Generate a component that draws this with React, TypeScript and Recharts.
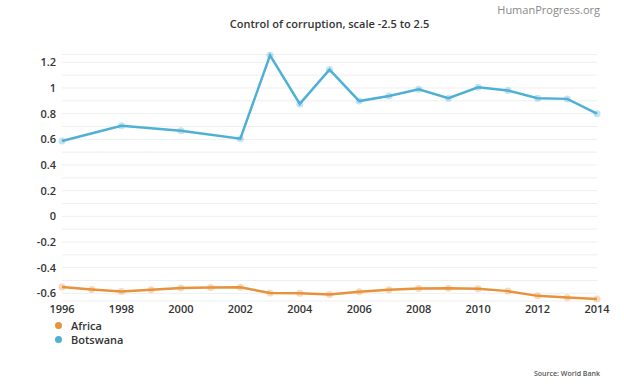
import React from "react";
import {
  LineChart,
  Line,
  XAxis,
  YAxis,
  CartesianGrid,
  Legend,
} from "recharts";

const years = [
  1996, 1997, 1998, 1999, 2000, 2001, 2002, 2003, 2004, 2005, 2006, 2007,
  2008, 2009, 2010, 2011, 2012, 2013, 2014,
];
const africa = [
  -0.55, -0.57, -0.585, -0.573, -0.558, -0.555, -0.553, -0.598, -0.6, -0.61,
  -0.588, -0.573, -0.563, -0.56, -0.565, -0.583, -0.62, -0.633, -0.645,
];
const botswana = [
  0.587, null, 0.706, null, 0.667, null, 0.605, 1.254, 0.876, 1.143, 0.898,
  0.938, 0.99, 0.92, 1.005, 0.98, 0.92, 0.915, 0.8,
];
const xTicks = [1996, 1998, 2000, 2002, 2004, 2006, 2008, 2010, 2012, 2014];
const yTicks = [
  -0.6, -0.5, -0.4, -0.3, -0.2, -0.1, 0, 0.1, 0.2, 0.3, 0.4, 0.5, 0.6, 0.7,
  0.8, 0.9, 1, 1.1, 1.2,
];

const data = years.map((year, i) => ({
  year,
  Africa: africa[i],
  Botswana: botswana[i],
}));

const FONT = "'Open Sans', sans-serif";
const AFRICA = "#e8923c";
const BOTSWANA = "#4fb0d6";

const yLabel = (v: number) =>
  Math.round(v * 10) % 2 === 0 ? String(Number(v.toFixed(1))) : "";

const renderLegend = () => (
  <div style={{ fontFamily: FONT, fontSize: 11, fontWeight: 600, color: "#333" }}>
    {[
      { name: "Africa", color: AFRICA },
      { name: "Botswana", color: BOTSWANA },
    ].map((item) => (
      <div
        key={item.name}
        style={{ display: "flex", alignItems: "center", height: 14 }}
      >
        <span
          style={{
            width: 7,
            height: 7,
            borderRadius: "50%",
            background: item.color,
            marginRight: 9,
          }}
        />
        {item.name}
      </div>
    ))}
  </div>
);

const App = () => {
  return (
    <div
      style={{
        position: "fixed",
        top: 0,
        left: 0,
        width: 624,
        height: 386,
        background: "#fff",
      }}
    >
      <div
        style={{
          position: "absolute",
          top: 2,
          right: 24,
          fontFamily: FONT,
          fontSize: 11,
          color: "#888",
        }}
      >
        HumanProgress.org
      </div>
      <div
        style={{
          position: "absolute",
          top: 16,
          left: 62,
          width: 535,
          textAlign: "center",
          fontFamily: FONT,
          fontSize: 11,
          fontWeight: 600,
          color: "#333",
        }}
      >
        Control of corruption, scale -2.5 to 2.5
      </div>
      <LineChart
        width={624}
        height={386}
        data={data}
        margin={{ top: 54.6, right: 27, left: 0, bottom: 37 }}
      >
        <CartesianGrid vertical={false} stroke="#eeeeee" />
        <XAxis
          dataKey="year"
          type="number"
          domain={[1996, 2014]}
          ticks={xTicks}
          axisLine={false}
          tickLine={false}
          tickSize={0}
          tickMargin={4}
          height={20}
          tick={{ fontFamily: FONT, fontSize: 11, fontWeight: 600, fill: "#333" }}
        />
        <YAxis
          domain={[-0.66, 1.26]}
          ticks={yTicks}
          tickFormatter={yLabel}
          interval={0}
          axisLine={false}
          tickLine={false}
          tickSize={0}
          tickMargin={6}
          width={62}
          tick={{ fontFamily: FONT, fontSize: 11, fontWeight: 600, fill: "#333" }}
        />
        <Legend
          content={renderLegend}
          wrapperStyle={{ position: "absolute", left: 55, top: 318, width: "auto" }}
        />
        <Line
          dataKey="Africa"
          stroke={AFRICA}
          strokeWidth={2.5}
          dot={{ r: 3.5, fill: AFRICA, fillOpacity: 0.35, stroke: "none" }}
          connectNulls
          isAnimationActive={false}
        />
        <Line
          dataKey="Botswana"
          stroke={BOTSWANA}
          strokeWidth={2.5}
          dot={{ r: 3.5, fill: BOTSWANA, fillOpacity: 0.35, stroke: "none" }}
          connectNulls
          isAnimationActive={false}
        />
      </LineChart>
      <div
        style={{
          position: "absolute",
          top: 369,
          right: 24,
          fontFamily: FONT,
          fontSize: 7,
          fontWeight: 600,
          color: "#555",
        }}
      >
        Source: World Bank
      </div>
    </div>
  );
};

export default App;
